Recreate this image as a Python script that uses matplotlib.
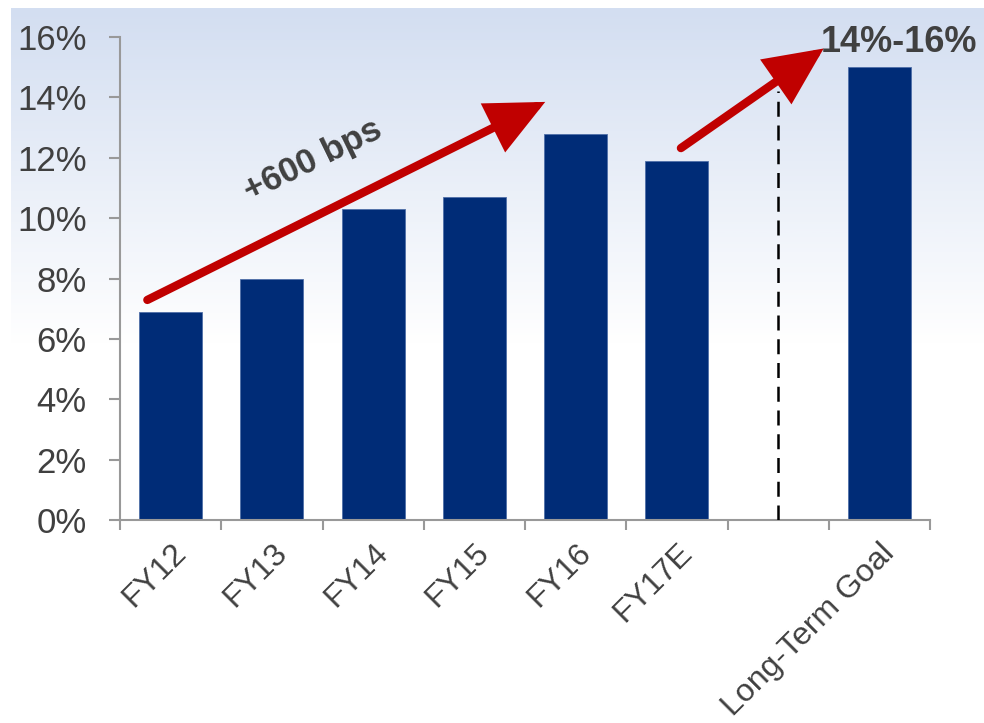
import numpy as np
import matplotlib
matplotlib.use("Agg")
import matplotlib.pyplot as plt
from matplotlib.colors import LinearSegmentedColormap

# data
categories = ["FY12", "FY13", "FY14", "FY15", "FY16", "FY17E", "", "Long-Term Goal"]
margins = [6.9, 8.0, 10.3, 10.7, 12.8, 11.9, np.nan, 15.0]
divider_top = 14.2
growth_label = "+600 bps"
goal_label = "14%-16%"

plt.rcParams['font.family'] = ['Liberation Sans', 'DejaVu Sans']
text_color = '#404040'
bar_color = '#002C77'
arrow_color = '#C00000'

fig = plt.figure(figsize=(9.84, 7.23), dpi=100)

# background gradient (light blue at top -> white)
bg = fig.add_axes([11 / 984, 0, 1 - 11 / 984, 1 - 8 / 723], zorder=0)
cmap = LinearSegmentedColormap.from_list('bg', ['#D3DEF1', '#FFFFFF'])
grad = np.linspace(0, 1, 600)
grad = np.clip(grad / 0.47, 0, 1)
bg.imshow(grad[:, None], aspect='auto', cmap=cmap, extent=[0, 1, 0, 1], origin='upper')
bg.set_axis_off()

ax = fig.add_axes([120 / 984, 1 - 520 / 723, 810 / 984, 483 / 723], zorder=1)
ax.patch.set_alpha(0)

x = np.arange(len(categories))
ax.bar(x, margins, width=0.62, color=bar_color, edgecolor='#4F6FA8', linewidth=0.6, zorder=2)

ax.set_xlim(-0.5, len(categories) - 0.5)
ax.set_ylim(0, 16)
ax.set_yticks(np.arange(0, 17, 2))
ax.set_yticklabels([f"{v:.0f}%" for v in np.arange(0, 17, 2)], fontsize=25, color=text_color)

ax.set_xticks(x)
ax.set_xticklabels(categories, rotation=45, ha='right', va='top', rotation_mode='anchor',
                   fontsize=23, color=text_color)
ax.tick_params(axis='x', which='major', length=0, pad=13)
ax.set_xticks(np.arange(-0.5, len(categories), 1), minor=True)
ax.tick_params(axis='x', which='minor', length=7, width=1.5, color='#999999')
ax.tick_params(axis='y', length=8, width=1.5, color='#999999', pad=16)

for side in ['top', 'right']:
    ax.spines[side].set_visible(False)
for side in ['left', 'bottom']:
    ax.spines[side].set_color('#999999')
    ax.spines[side].set_linewidth(1.5)

# divider before long-term goal
ax.vlines(6, 0, divider_top, colors='black', linestyles=(0, (6, 3.5)), linewidth=1.8, zorder=3)

# arrows
arrow_kw = dict(arrowstyle='-|>,head_length=1.6,head_width=0.75', color=arrow_color,
                lw=6, mutation_scale=20, shrinkA=0, shrinkB=0, capstyle='round',
                joinstyle='miter')
ax.annotate('', xy=(3.70, 13.85), xytext=(-0.23, 7.29), arrowprops=arrow_kw,
            annotation_clip=False, zorder=4)
ax.annotate('', xy=(6.45, 15.62), xytext=(5.04, 12.32), arrowprops=arrow_kw,
            annotation_clip=False, zorder=4)

ax.text(1.40, 11.92, growth_label, rotation=26, rotation_mode='anchor', ha='center', va='center',
        fontsize=25, fontweight='bold', color=text_color, zorder=5)
ax.text(7.19, 15.83, goal_label, ha='center', va='center', fontsize=26, fontweight='bold',
        color=text_color, clip_on=False, zorder=5)

fig.savefig('out.png', dpi=100)
